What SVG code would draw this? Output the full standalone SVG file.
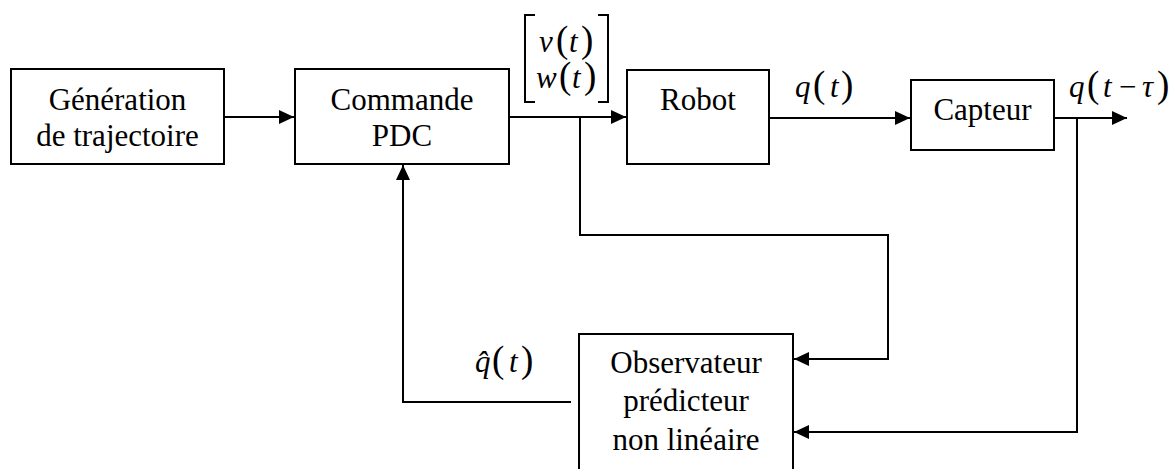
<svg xmlns="http://www.w3.org/2000/svg" width="1174" height="469" viewBox="0 0 1174 469">
<style>
.box{fill:#fff;stroke:#000;stroke-width:2}
text{font-family:'Liberation Serif','DejaVu Serif',serif;font-size:31px;fill:#000}
.lbl{text-anchor:middle}
.it{font-style:italic}
.par{font-size:37px}
.wire{fill:none;stroke:#000;stroke-width:2}
</style>
<defs>
<marker id="ah" markerUnits="userSpaceOnUse" markerWidth="16" markerHeight="14" refX="15" refY="7" orient="auto">
<path d="M0,0 L15,7 L0,14 Z" fill="#000"/>
</marker>
</defs>
<rect width="1174" height="469" fill="#fff"/>
<g id="connectors">
<path class="wire" d="M224,117 H294" marker-end="url(#ah)"/>
<path class="wire" d="M509,117 H626" marker-end="url(#ah)"/>
<path class="wire" d="M769,118 H910" marker-end="url(#ah)"/>
<path class="wire" d="M1054,118 H1127" marker-end="url(#ah)"/>
<path class="wire" d="M580,117 V235 H888 V359 H794" marker-end="url(#ah)"/>
<path class="wire" d="M1077,118 V432 H794" marker-end="url(#ah)"/>
<path class="wire" d="M571,402 H403 V165" marker-end="url(#ah)"/>
</g>
<g id="generation">
<rect class="box" x="11" y="69" width="213" height="95"/>
<text class="lbl" x="117.5" y="110">Génération</text>
<text class="lbl" x="117.5" y="146">de trajectoire</text>
</g>
<g id="commande">
<rect class="box" x="295" y="69" width="214" height="95"/>
<text class="lbl" x="402" y="110">Commande</text>
<text class="lbl" x="402" y="146">PDC</text>
</g>
<g id="robot">
<rect class="box" x="627" y="70" width="142" height="94"/>
<text class="lbl" x="698" y="110">Robot</text>
</g>
<g id="capteur">
<rect class="box" x="911" y="80" width="143" height="70"/>
<text class="lbl" x="982.5" y="120">Capteur</text>
</g>
<g id="observateur">
<rect class="box" x="579" y="334" width="214" height="145"/>
<text class="lbl" x="686" y="373">Observateur</text>
<text class="lbl" x="686" y="411">prédicteur</text>
<text class="lbl" x="686" y="450">non linéaire</text>
</g>
<g id="labels">
<path class="wire" d="M535,15 H525 V102 H535" stroke-width="1.5"/>
<path class="wire" d="M598,15 H608 V102 H598" stroke-width="1.5"/>
<text y="52"><tspan class="it" x="539">v</tspan><tspan class="par" x="556">(</tspan><tspan class="it" x="569">t</tspan><tspan class="par" x="581">)</tspan></text>
<text y="88"><tspan class="it" x="536">w</tspan><tspan class="par" x="559">(</tspan><tspan class="it" x="572">t</tspan><tspan class="par" x="584">)</tspan></text>
<text y="97"><tspan class="it" x="795">q</tspan><tspan class="par" x="813">(</tspan><tspan class="it" x="830">t</tspan><tspan class="par" x="841">)</tspan></text>
<text y="97"><tspan class="it" x="1069">q</tspan><tspan class="par" x="1087">(</tspan><tspan class="it" x="1103">t</tspan><tspan x="1119">−</tspan><tspan class="it" x="1142">τ</tspan><tspan class="par" x="1157">)</tspan></text>
<text y="372"><tspan class="it" x="475">q̂</tspan><tspan class="par" x="492">(</tspan><tspan class="it" x="509">t</tspan><tspan class="par" x="521">)</tspan></text>
</g>
</svg>
